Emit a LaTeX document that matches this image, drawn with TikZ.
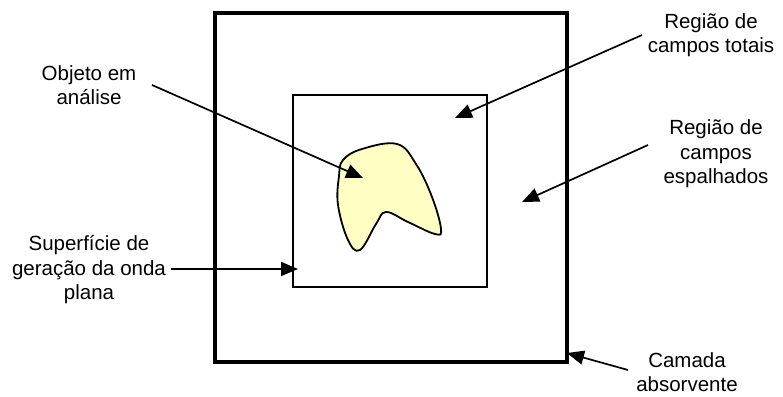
\documentclass[tikz,border=0pt]{standalone}
\usepackage{fontspec}
\setmainfont{Liberation Sans}
\usetikzlibrary{arrows.meta}
\definecolor{blobfill}{HTML}{FFFFC4}
\tikzset{
  lbl/.style={align=center, font=\fontsize{20.5}{24.5}\selectfont, inner sep=0pt},
  pointer/.style={line width=1.7pt, -{Triangle[length=17pt,width=14pt]}},
}
\begin{document}
\begin{tikzpicture}[x=1pt,y=-1pt]
\useasboundingbox (0,0) rectangle (783,396);
% boxes
\draw[line width=3.5pt] (215,13) rectangle (567,362);
\draw[line width=1.5pt] (293,95) rectangle (487,287);
% object
\draw[line width=1.8pt, fill=blobfill] plot[smooth cycle, tension=0.65] coordinates {
 (343,160) (362,149) (397,144) (416,164) (432,197) (441,229) (435,234)
 (408,222) (386,212) (376,224) (360,250) (348,240) (338,205) (339,176)};
% labels
\node[lbl] (obj) at (89,85) {Objeto em\\análise};
\node[lbl] (sup) at (89,270) {Superfície de\\geração da onda\\plana};
\node[lbl] (tot) at (711,35) {Região de\\campos totais};
\node[lbl] (esp) at (716,154) {Região de\\campos\\espalhados};
\node[lbl] (cam) at (687,372) {Camada\\absorvente};
% connector endpoints
\coordinate (objS) at (152,85);   \coordinate (objT) at (363,178);
\coordinate (supS) at (171,269);  \coordinate (supT) at (298,269);
\coordinate (totS) at (642,35);   \coordinate (totT) at (455,118);
\coordinate (espS) at (648,145);  \coordinate (espT) at (522,202);
\coordinate (camS) at (628,370);  \coordinate (camT) at (567,353);
\draw[pointer] (objS) -- (objT);
\draw[pointer] (supS) -- (supT);
\draw[pointer] (totS) -- (totT);
\draw[pointer] (espS) -- (espT);
\draw[pointer] (camS) -- (camT);
\end{tikzpicture}
\end{document}
